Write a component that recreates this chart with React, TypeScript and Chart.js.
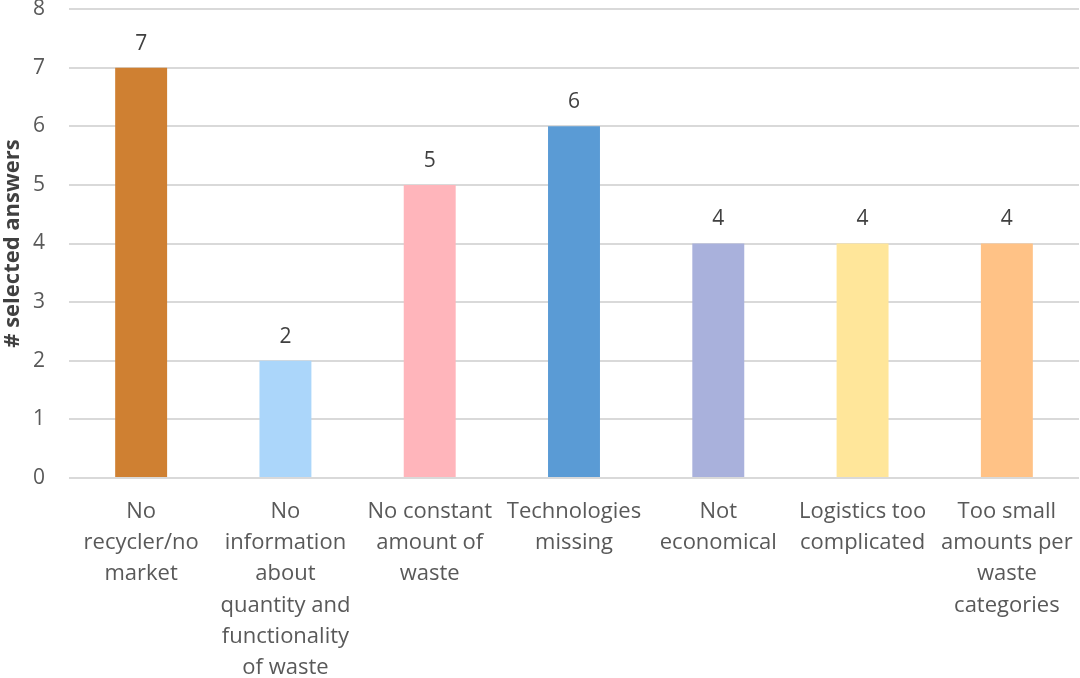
import React, { useEffect, useRef } from "react";
import { Chart, registerables } from "chart.js";

Chart.register(...registerables);

const categories: string[][] = [
  ["No", "recycler/no", "market"],
  ["No", "information", "about", "quantity and", "functionality", "of waste"],
  ["No constant", "amount of", "waste"],
  ["Technologies", "missing"],
  ["Not", "economical"],
  ["Logistics too", "complicated"],
  ["Too small", "amounts per", "waste", "categories"],
];
const values: number[] = [7, 2, 5, 6, 4, 4, 4];
const barColors: string[] = ["#CF8032", "#ABD6FA", "#FFB5BB", "#5A9BD5", "#A9B1DC", "#FFE69A", "#FFC286"];
const yTicks: number[] = [0, 1, 2, 3, 4, 5, 6, 7, 8];
const yTitle = "# selected answers";

const FONT = "'Open Sans', 'Noto Sans', sans-serif";
const TEXT = "#595959";

const valueLabels = {
  id: "valueLabels",
  afterDatasetsDraw(chart: any) {
    const ctx = chart.ctx;
    const meta = chart.getDatasetMeta(0);
    ctx.save();
    ctx.font = `21px ${FONT}`;
    ctx.fillStyle = "#404040";
    ctx.textAlign = "center";
    ctx.textBaseline = "middle";
    meta.data.forEach((bar: any, i: number) => {
      ctx.fillText(String(values[i]), bar.x, bar.y - 24);
    });
    ctx.restore();
  },
};

export default function App() {
  const ref = useRef<HTMLCanvasElement>(null);
  useEffect(() => {
    if (!ref.current) return;
    const chart = new Chart(ref.current, {
      type: "bar",
      data: {
        labels: categories,
        datasets: [
          {
            data: values,
            backgroundColor: barColors,
            borderWidth: 0,
            categoryPercentage: 1,
            barPercentage: 0.36,
          },
        ],
      },
      options: {
        animation: false,
        responsive: false,
        maintainAspectRatio: false,
        layout: { padding: { top: 9, right: 1, left: 0, bottom: 0 } },
        plugins: { legend: { display: false }, tooltip: { enabled: false } },
        scales: {
          x: {
            offset: true,
            grid: { display: false, drawTicks: false },
            border: { display: false },
            ticks: {
              maxRotation: 0,
              minRotation: 0,
              autoSkip: false,
              padding: 18,
              color: TEXT,
              font: { family: FONT, size: 22, lineHeight: 1.42 },
            },
            afterFit: (s: any) => {
              s.height = 200;
              s.paddingLeft = 0;
              s.paddingRight = 0;
            },
          },
          y: {
            min: 0,
            max: 8,
            afterBuildTicks: (s: any) => {
              s.ticks = yTicks.map((v) => ({ value: v }));
            },
            grid: { color: "#d9d9d9", lineWidth: 2, drawTicks: false },
            border: { display: false },
            ticks: {
              padding: 24,
              color: TEXT,
              font: { family: FONT, size: 21 },
            },
            title: {
              display: true,
              text: yTitle,
              color: "#404040",
              padding: 0,
              font: { family: FONT, size: 22, weight: "bold" },
            },
            afterFit: (s: any) => {
              s.width = 69;
              s.paddingTop = 0;
              s.paddingBottom = 0;
            },
          },
        },
      },
      plugins: [valueLabels],
    });
    return () => chart.destroy();
  }, []);
  return (
    <div style={{ position: "fixed", left: 0, top: 0, width: 1080, height: 678, background: "#fff" }}>
      <canvas ref={ref} width={1080} height={678} style={{ width: 1080, height: 678, display: "block" }} />
    </div>
  );
}
